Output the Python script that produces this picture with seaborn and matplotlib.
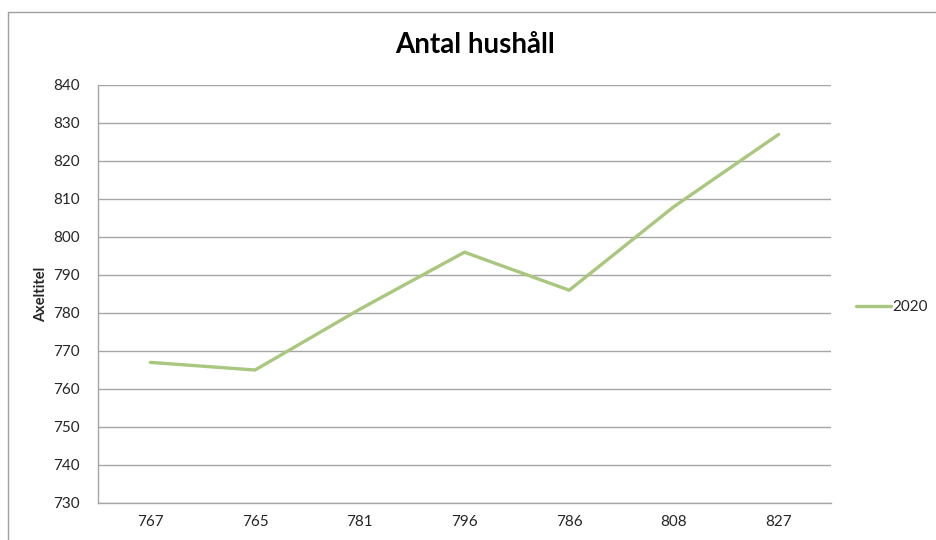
import matplotlib
matplotlib.use("Agg")
import matplotlib.pyplot as plt
from matplotlib.lines import Line2D
import seaborn as sns
import pandas as pd

categories = ["767", "765", "781", "796", "786", "808", "827"]
values_2020 = [767, 765, 781, 796, 786, 808, 827]
series_name = "2020"
y_ticks = list(range(730, 841, 10))

sns.set_style("white")
plt.rcParams["font.family"] = ["Lato", "DejaVu Sans"]

df = pd.DataFrame({"kategori": categories, "antal": values_2020, "serie": series_name})

fig = plt.figure(figsize=(9.36, 5.4), dpi=100)
ax = fig.add_axes([98 / 936, 1 - 503 / 540, (831 - 98) / 936, (503 - 85) / 540])

sns.lineplot(data=df, x="kategori", y="antal", hue="serie", palette=["#A9C77E"],
             linewidth=2.4, ax=ax, sort=False, legend=False)

ax.set_ylim(730, 840)
ax.set_yticks(y_ticks)
ax.set_xlim(-0.5, len(categories) - 0.5)
ax.grid(axis="y", color="#A6A6A6", linewidth=1.0)
ax.grid(axis="x", visible=False)
for side in ("top", "right"):
    ax.spines[side].set_visible(False)
for side in ("left", "bottom"):
    ax.spines[side].set_color("#A6A6A6")
    ax.spines[side].set_linewidth(1.0)
ax.tick_params(axis="both", length=0, labelsize=11, colors="#262626")
ax.tick_params(axis="x", pad=9)
ax.tick_params(axis="y", pad=13)
ax.set_xlabel("")
ax.set_ylabel("Axeltitel", fontsize=10.5, fontweight="bold", color="#262626", labelpad=4)

fig.text(475 / 936, 1 - 45 / 540, "Antal hushåll", ha="center", va="center",
         fontsize=20, fontweight="bold", color="#000000")

# legend entry on the right
leg_handle = Line2D([0], [0], color="#A9C77E", linewidth=2.4)
fig.legend([leg_handle], [series_name], loc="center left",
           bbox_to_anchor=(856 / 936, 1 - 307 / 540), frameon=False,
           fontsize=11, handlelength=2.3, handletextpad=0.1, borderaxespad=0,
           borderpad=0)

# chart frame
fig.add_artist(Line2D([8 / 936, 8 / 936], [0, 1 - 12 / 540], color="#A0A0A0", linewidth=1.0,
                      transform=fig.transFigure))
fig.add_artist(Line2D([8 / 936, 1], [1 - 12 / 540, 1 - 12 / 540], color="#A0A0A0", linewidth=1.0,
                      transform=fig.transFigure))

fig.savefig("out.png", dpi=100)
